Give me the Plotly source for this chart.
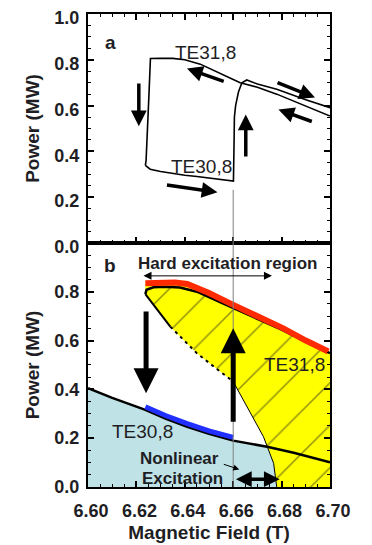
import plotly.graph_objects as go
from plotly.subplots import make_subplots

# ---------------- Panel a: measured hysteresis ----------------
sweep_up_x = [6.6237, 6.6257, 6.630, 6.635, 6.640, 6.645, 6.650, 6.655, 6.6601,
              6.6603, 6.6605, 6.6610, 6.6622, 6.6636, 6.6656, 6.670, 6.678, 6.690, 6.700]
sweep_up_y = [0.339, 0.322, 0.312, 0.303, 0.296, 0.290, 0.284, 0.279, 0.270,
              0.400, 0.550, 0.600, 0.660, 0.700, 0.712, 0.694, 0.671, 0.625, 0.591]

sweep_down_x = [6.700, 6.690, 6.678, 6.670, 6.6629, 6.660, 6.6533, 6.6464, 6.640,
                6.635, 6.630, 6.6258, 6.6252, 6.6245, 6.6240, 6.6237]
sweep_down_y = [0.554, 0.597, 0.650, 0.680, 0.700, 0.714, 0.747, 0.781, 0.800,
                0.806, 0.807, 0.806, 0.650, 0.450, 0.360, 0.339]

# ---------------- Panel b: theory ----------------
te31_x = [6.6237, 6.630, 6.636, 6.641, 6.650, 6.660, 6.670, 6.6807, 6.690, 6.6993]
te31_y = [0.835, 0.838, 0.838, 0.832, 0.795, 0.746, 0.700, 0.650, 0.600, 0.555]

te31_black_x = [6.6237, 6.6242, 6.627, 6.632, 6.638, 6.645, 6.655, 6.665, 6.680, 6.690, 6.700]
te31_black_y = [0.790, 0.808, 0.818, 0.820, 0.817, 0.800, 0.755, 0.712, 0.645, 0.595, 0.548]

boundary_x = [6.6237, 6.626, 6.630, 6.634, 6.645, 6.6546, 6.660, 6.6656, 6.6725, 6.6767, 6.678]
boundary_y = [0.790, 0.760, 0.710, 0.657, 0.548, 0.473, 0.432, 0.329, 0.206, 0.097, 0.000]

te30_x = [6.600, 6.610, 6.6237, 6.632, 6.641, 6.650, 6.660, 6.674, 6.685, 6.700]
te30_y = [0.405, 0.365, 0.316, 0.280, 0.247, 0.218, 0.190, 0.165, 0.140, 0.101]

te30_blue_x = [6.6237, 6.632, 6.641, 6.650, 6.660]
te30_blue_y = [0.329, 0.293, 0.260, 0.230, 0.203]

transition_field = 6.66

FONT = "Liberation Sans, Arial, sans-serif"
INK = "#1e1e24"

fig = make_subplots(rows=2, cols=1, shared_xaxes=True, vertical_spacing=0,
                    row_heights=[0.484, 0.516])

# panel a curves
fig.add_trace(go.Scatter(x=sweep_up_x, y=sweep_up_y, mode="lines",
                         line=dict(color="black", width=1.6), showlegend=False), row=1, col=1)
fig.add_trace(go.Scatter(x=sweep_down_x, y=sweep_down_y, mode="lines",
                         line=dict(color="black", width=1.6), showlegend=False), row=1, col=1)

# panel b: light blue region (below TE30,8 up to the boundary)
idx = te30_x.index(6.674)
lb_x = [6.600] + te30_x[:idx + 1] + [6.6767, 6.678]
lb_y = [0.0] + te30_y[:idx + 1] + [0.097, 0.0]
fig.add_trace(go.Scatter(x=lb_x, y=lb_y, mode="lines", fill="toself",
                         fillcolor="#BFE2E6", line=dict(width=0), showlegend=False,
                         hoverinfo="skip"), row=2, col=1)

# yellow hatched region
yel_x = te31_x + [6.700, 6.700] + boundary_x[::-1]
yel_y = te31_y + [0.548, 0.0] + boundary_y[::-1]
fig.add_trace(go.Scatter(x=yel_x, y=yel_y, mode="lines", fill="toself",
                         fillcolor="#FFFF00",
                         fillpattern=dict(shape="/", bgcolor="#FFFF00", fgcolor="#222222",
                                          size=30, solidity=0.05),
                         line=dict(width=0), showlegend=False, hoverinfo="skip"),
              row=2, col=1)

# black boundary lines
fig.add_trace(go.Scatter(x=te31_black_x, y=te31_black_y, mode="lines",
                         line=dict(color="black", width=2.5), showlegend=False), row=2, col=1)
fig.add_trace(go.Scatter(x=boundary_x[:4], y=boundary_y[:4], mode="lines",
                         line=dict(color="black", width=2), showlegend=False), row=2, col=1)
fig.add_trace(go.Scatter(x=boundary_x[3:7], y=boundary_y[3:7], mode="lines",
                         line=dict(color="black", width=2, dash="3px,4px"), showlegend=False),
              row=2, col=1)
fig.add_trace(go.Scatter(x=boundary_x[6:], y=boundary_y[6:], mode="lines",
                         line=dict(color="black", width=1), showlegend=False), row=2, col=1)
fig.add_trace(go.Scatter(x=te30_x, y=te30_y, mode="lines",
                         line=dict(color="black", width=2.5), showlegend=False), row=2, col=1)

# coloured stable branches
fig.add_trace(go.Scatter(x=te31_x, y=te31_y, mode="lines",
                         line=dict(color="#FF2A00", width=6), showlegend=False), row=2, col=1)
fig.add_trace(go.Scatter(x=te30_blue_x, y=te30_blue_y, mode="lines",
                         line=dict(color="#2230FF", width=5), showlegend=False), row=2, col=1)

# thin vertical marker line
fig.add_shape(type="line", x0=transition_field, x1=transition_field, y0=0, y1=0.232,
              xref="x", yref="y", line=dict(color="#808080", width=1))
fig.add_shape(type="line", x0=transition_field, x1=transition_field, y0=0, y1=1.0,
              xref="x2", yref="y2", line=dict(color="#808080", width=1))

ann = []

def arrow(x, y, ax, ay, xr, yr, w, size=1.0, head=2, side="end"):
    ann.append(dict(x=x, y=y, ax=ax, ay=ay, xref=xr, yref=yr, axref=xr, ayref=yr,
                    text="", showarrow=True, arrowhead=head, startarrowhead=head,
                    arrowsize=size, startarrowsize=size, arrowwidth=w,
                    arrowcolor="black", arrowside=side))

def label(x, y, t, xr, yr, size, bold=False):
    ann.append(dict(x=x, y=y, xref=xr, yref=yr, text=f"<b>{t}</b>" if bold else t,
                    showarrow=False, font=dict(family=FONT, size=size, color=INK)))

# panel a arrows
arrow(6.621, 0.510, 6.621, 0.703, "x", "y", 3.5, 0.9)
arrow(6.6652, 0.561, 6.6652, 0.371, "x", "y", 3.5, 0.9)
arrow(6.6409, 0.762, 6.6567, 0.703, "x", "y", 3.5, 0.9)
arrow(6.6535, 0.221, 6.632, 0.254, "x", "y", 3.5, 0.9)
arrow(6.6938, 0.635, 6.6777, 0.703, "x", "y", 3.5, 0.9)
arrow(6.6787, 0.583, 6.6931, 0.528, "x", "y", 3.5, 0.9)

label(6.6093, 0.876, "a", "x", "y", 19, bold=True)
label(6.6485, 0.832, "TE31,8", "x", "y", 19)
label(6.6471, 0.335, "TE30,8", "x", "y", 19)

# panel b arrows
arrow(6.624, 0.384, 6.624, 0.725, "x2", "y2", 5, 1.0)
arrow(6.660, 0.650, 6.660, 0.261, "x2", "y2", 5, 1.0)
arrow(6.676, 0.865, 6.6223, 0.865, "x2", "y2", 1, 1.6, side="end+start")
arrow(6.6792, 0.032, 6.6605, 0.032, "x2", "y2", 3.5, 0.9, side="end+start")
arrow(6.6625, 0.072, 6.6555, 0.095, "x2", "y2", 1, 1.2)

label(6.6089, 0.907, "b", "x2", "y2", 19, bold=True)
label(6.6577, 0.917, "Hard excitation region", "x2", "y2", 17, bold=True)
label(6.6852, 0.500, "TE31,8", "x2", "y2", 19)
label(6.6225, 0.227, "TE30,8", "x2", "y2", 19)
label(6.6377, 0.118, "Nonlinear", "x2", "y2", 17, bold=True)
label(6.6392, 0.036, "Excitation", "x2", "y2", 17, bold=True)

tickfont = dict(family=FONT, size=18, color=INK, weight="bold")
axis_common = dict(showline=True, linecolor="black", linewidth=2,
                   ticks="inside", ticklen=6, tickwidth=1.5, tickcolor="black",
                   showgrid=False, zeroline=False, automargin=False, tickfont=tickfont)

xminor = dict(ticks="inside", ticklen=3, dtick=0.005, tickcolor="black",
              tickwidth=1, showgrid=False)
yminor = dict(ticks="inside", ticklen=3, dtick=0.05, tickcolor="black", tickwidth=1,
              showgrid=False)

fig.update_xaxes(range=[6.60, 6.70], tickmode="linear", tick0=6.60, dtick=0.02,
                 tickformat=".2f", minor=xminor, **axis_common)
fig.update_xaxes(showticklabels=False, mirror="ticks", row=1, col=1)
fig.update_xaxes(mirror=True, ticklabelstandoff=6, ticklabelshift=3,
                 title=dict(text="<b>Magnetic Field (T)</b>", standoff=6,
                            font=dict(family=FONT, size=19, color=INK)), row=2, col=1)

ytitle = dict(text="<b>Power (MW)</b>", standoff=10,
              font=dict(family=FONT, size=19, color=INK))
fig.update_yaxes(range=[0, 1.0], tickmode="linear", tick0=0, dtick=0.2, tickformat=".1f",
                 minor=yminor, mirror="ticks", ticklabelshift=4, ticklabelstandoff=3,
                 ticklabeloverflow="allow",
                 title=ytitle, **axis_common, row=1, col=1)
fig.update_yaxes(range=[0, 0.9999], tickmode="linear", tick0=0, dtick=0.2, tickformat=".1f",
                 minor=yminor, mirror="ticks", ticklabelstandoff=3,
                 title=ytitle, **axis_common, row=2, col=1)

# the page body adds an 8px offset, so the figure is 8px smaller than the window
fig.update_layout(width=364, height=537, margin=dict(l=80, r=42, t=6, b=58),
                  plot_bgcolor="white", paper_bgcolor="white",
                  annotations=ann, showlegend=False,
                  font=dict(family=FONT, color=INK))

fig.write_html("out.html")
